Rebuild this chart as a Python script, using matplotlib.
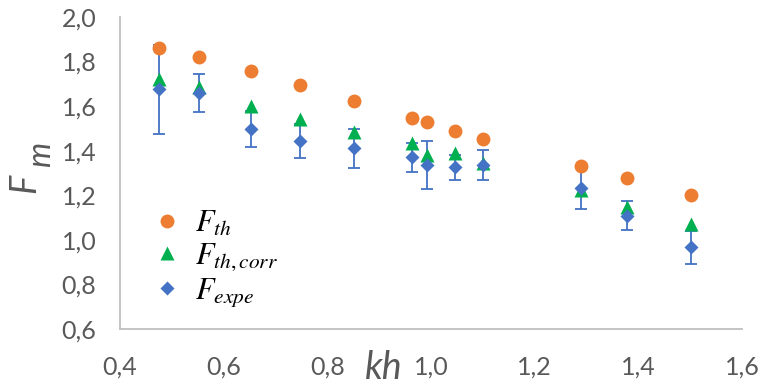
import matplotlib
matplotlib.use("Agg")
import matplotlib.pyplot as plt

# data
kh = [0.476, 0.552, 0.653, 0.748, 0.852, 0.963, 0.993, 1.046, 1.101, 1.290, 1.379, 1.502]
F_th = [1.862, 1.819, 1.756, 1.695, 1.623, 1.547, 1.527, 1.490, 1.451, 1.330, 1.276, 1.201]
F_th_corr = [1.720, 1.684, 1.600, 1.543, 1.484, 1.433, 1.381, 1.390, 1.343, 1.224, 1.149, 1.070]
F_expe = [1.675, 1.660, 1.497, 1.443, 1.411, 1.370, 1.336, 1.325, 1.336, 1.231, 1.108, 0.967]
F_expe_err = [0.200, 0.085, 0.082, 0.077, 0.087, 0.064, 0.107, 0.058, 0.066, 0.094, 0.066, 0.074]

x_ticks = [0.4, 0.6, 0.8, 1.0, 1.2, 1.4, 1.6]
y_ticks = [0.6, 0.8, 1.0, 1.2, 1.4, 1.6, 1.8, 2.0]

plt.rcParams['mathtext.fontset'] = 'stix'

W, H = 759, 385
fig = plt.figure(figsize=(W / 100, H / 100), dpi=100)
ax = fig.add_axes([120 / W, (H - 329) / H, 622 / W, 312 / H])

orange = '#ED7D31'
green = '#00B050'
blue = '#4472C4'
gray = '#595959'

ax.errorbar(kh, F_expe, yerr=F_expe_err, fmt='none', ecolor=blue,
            elinewidth=1.3, capsize=4.5, capthick=1.3, zorder=1)
ax.plot(kh, F_th, 'o', color=orange, ms=10, mec='none', zorder=2, label=r'$F_{th}$')
ax.plot(kh, F_th_corr, '^', color=green, ms=10, mec='none', zorder=3, label=r'$F_{th,corr}$')
ax.plot(kh, F_expe, 'D', color=blue, ms=7.2, mec='none', zorder=4, label=r'$F_{expe}$')

ax.set_xlim(0.4, 1.6)
ax.set_ylim(0.6, 2.0)
ax.set_xticks(x_ticks)
ax.set_yticks(y_ticks)
ax.set_xticklabels([f"{v:.1f}".replace('.', ',') for v in x_ticks])
ax.set_yticklabels([f"{v:.1f}".replace('.', ',') for v in y_ticks])
ax.tick_params(length=0, labelsize=18, labelcolor=gray)
ax.tick_params(axis='x', pad=19)
ax.tick_params(axis='y', pad=17)
for lab in ax.get_xticklabels() + ax.get_yticklabels():
    lab.set_fontfamily('Lato')
for s in ['top', 'right']:
    ax.spines[s].set_visible(False)
for s in ['left', 'bottom']:
    ax.spines[s].set_color('#BFBFBF')
    ax.spines[s].set_linewidth(1.3)
ax.set_facecolor('white')

leg = ax.legend(loc='upper left', bbox_to_anchor=(0.022, 0.435), frameon=False,
                fontsize=22, handletextpad=0.3, labelspacing=0.1,
                borderpad=0, handlelength=1.2)
for t in leg.get_texts():
    t.set_color('black')

# axis titles
fig.text(365 / W, 1 - 379 / H, 'kh', fontsize=27, style='italic', color=gray,
         family='Lato', ha='left', va='baseline')
fig.text(35 / W, 1 - 193 / H, 'F', fontsize=26, style='italic', color=gray,
         family='Lato', ha='left', va='baseline', rotation=90, rotation_mode='anchor')
fig.text(50 / W, 1 - 167 / H, 'm', fontsize=23, style='italic', color=gray,
         family='Lato', ha='left', va='baseline', rotation=90, rotation_mode='anchor')

fig.savefig('out.png', dpi=100)
